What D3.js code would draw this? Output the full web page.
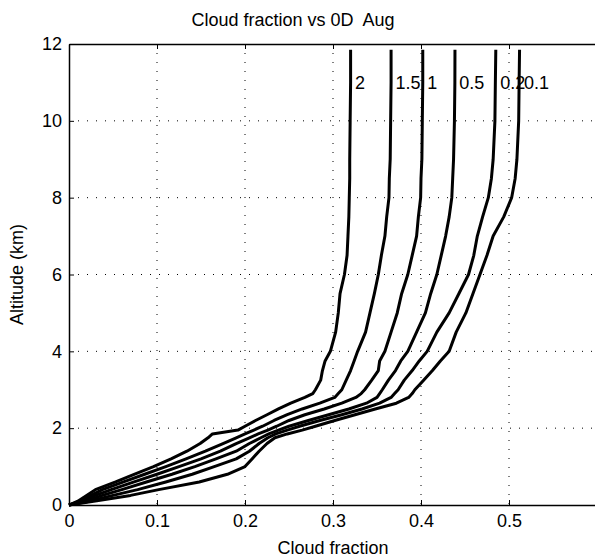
<!DOCTYPE html>
<html>
<head>
<meta charset="utf-8">
<script src="https://cdn.jsdelivr.net/npm/d3@7"></script>
<style>
  body { margin: 0; background: #fff; }
  svg { display: block; font-family: "Liberation Sans", Arial, Helvetica, sans-serif; }
</style>
</head>
<body>
<div id="chart"></div>
<script>
// altitude levels (km) shared by all curves
var altitudes = [0, 0.1, 0.25, 0.4, 0.6, 0.8, 1.0, 1.2, 1.4, 1.6, 1.75, 1.85, 1.95, 2.05, 2.2, 2.35, 2.5, 2.65, 2.8, 2.9, 3.0,
  3.25, 3.5, 3.75, 4.0, 4.5, 5.0, 5.5, 6.0, 6.5, 7.0, 7.5, 8.0, 8.5, 9.0, 10.0, 11.0, 11.85];

// cloud fraction for each optical depth threshold
var od2   = [0, 0.010, 0.020, 0.030, 0.053, 0.074, 0.096, 0.116, 0.134, 0.149, 0.158, 0.163, 0.192, 0.200, 0.212, 0.225, 0.238, 0.252, 0.268, 0.277, 0.280,
  0.286, 0.288, 0.291, 0.297, 0.303, 0.306, 0.308, 0.313, 0.316, 0.317, 0.318, 0.3185, 0.319, 0.319, 0.3195, 0.320, 0.320];
var od1_5 = [0, 0.013, 0.025, 0.038, 0.062, 0.086, 0.110, 0.133, 0.155, 0.175, 0.190, 0.200, 0.210, 0.220, 0.233, 0.248, 0.265, 0.285, 0.302, 0.306, 0.310,
  0.315, 0.320, 0.324, 0.328, 0.337, 0.342, 0.347, 0.3515, 0.355, 0.359, 0.361, 0.3636, 0.364, 0.365, 0.3655, 0.366, 0.366];
var od1   = [0, 0.016, 0.030, 0.048, 0.074, 0.100, 0.125, 0.150, 0.172, 0.190, 0.205, 0.215, 0.226, 0.236, 0.250, 0.268, 0.290, 0.310, 0.326, 0.332, 0.336,
  0.344, 0.3515, 0.353, 0.359, 0.366, 0.373, 0.378, 0.385, 0.390, 0.395, 0.397, 0.3996, 0.400, 0.401, 0.4015, 0.402, 0.402];
var od0_5 = [0, 0.019, 0.038, 0.060, 0.088, 0.117, 0.143, 0.167, 0.190, 0.205, 0.218, 0.227, 0.238, 0.250, 0.272, 0.295, 0.318, 0.338, 0.350, 0.353, 0.356,
  0.363, 0.371, 0.377, 0.385, 0.395, 0.405, 0.411, 0.418, 0.423, 0.428, 0.432, 0.435, 0.436, 0.437, 0.438, 0.4385, 0.4386];
var od0_2 = [0, 0.023, 0.050, 0.078, 0.110, 0.140, 0.165, 0.190, 0.205, 0.216, 0.226, 0.235, 0.248, 0.262, 0.285, 0.310, 0.333, 0.353, 0.366, 0.370, 0.374,
  0.381, 0.390, 0.398, 0.407, 0.418, 0.432, 0.443, 0.454, 0.460, 0.464, 0.470, 0.4765, 0.480, 0.482, 0.484, 0.4845, 0.485];
var od0_1 = [0, 0.028, 0.070, 0.102, 0.148, 0.180, 0.200, 0.208, 0.216, 0.225, 0.234, 0.248, 0.265, 0.280, 0.302, 0.325, 0.348, 0.372, 0.386, 0.390, 0.393,
  0.403, 0.413, 0.422, 0.432, 0.440, 0.451, 0.459, 0.467, 0.475, 0.482, 0.494, 0.503, 0.507, 0.509, 0.511, 0.5115, 0.512];

var seriesNames = ["2", "1.5", "1", "0.5", "0.2", "0.1"];
var seriesValues = [od2, od1_5, od1, od0_5, od0_2, od0_1];

var xTicks = [0, 0.1, 0.2, 0.3, 0.4, 0.5];
var yTicks = [0, 2, 4, 6, 8, 10, 12];
var labelAltitude = 11;

var svgWidth = 595;
var svgHeight = 558;
var margin = { top: 44, right: -2, bottom: 53, left: 69 };
var width = svgWidth - margin.left - margin.right;
var height = svgHeight - margin.top - margin.bottom;

var svg = d3.select("#chart")
  .append("svg")
  .attr("width", svgWidth)
  .attr("height", svgHeight);

var chartGroup = svg.append("g")
  .attr("transform", `translate(${margin.left}, ${margin.top})`);

var xScale = d3.scaleLinear().domain([0, 0.6]).range([0, width]);
var yScale = d3.scaleLinear().domain([0, 12]).range([height, 0]);

// dotted grid
chartGroup.append("g")
  .selectAll("line")
  .data(xTicks.slice(1))
  .enter()
  .append("line")
  .attr("x1", d => xScale(d)).attr("x2", d => xScale(d))
  .attr("y1", 0).attr("y2", height)
  .attr("stroke", "#000")
  .attr("stroke-width", 1)
  .attr("stroke-dasharray", "1,8");

chartGroup.append("g")
  .selectAll("line")
  .data(yTicks.slice(1, -1))
  .enter()
  .append("line")
  .attr("x1", 0).attr("x2", width)
  .attr("y1", d => yScale(d)).attr("y2", d => yScale(d))
  .attr("stroke", "#000")
  .attr("stroke-width", 1)
  .attr("stroke-dasharray", "1,8");

// curves
var line = d3.line()
  .x(d => xScale(d[0]))
  .y(d => yScale(d[1]));

seriesValues.forEach(function(vals, i) {
  var pts = vals.map((v, j) => [v, altitudes[j]]);
  chartGroup.append("path")
    .datum(pts)
    .attr("d", line)
    .attr("fill", "none")
    .attr("stroke", "#000")
    .attr("stroke-width", 3)
    .attr("stroke-linejoin", "round");

  chartGroup.append("text")
    .attr("x", xScale(vals[vals.length - 1] + 0.005))
    .attr("y", yScale(labelAltitude))
    .attr("dy", "0.35em")
    .attr("font-size", "18px")
    .text(seriesNames[i]);
});

// axes with inward ticks
var bottomAxis = d3.axisBottom(xScale).tickValues(xTicks).tickSizeInner(-5).tickSizeOuter(0)
  .tickFormat(d => d === 0 ? "0" : d3.format(".1f")(d));
var topAxis = d3.axisTop(xScale).tickValues(xTicks).tickSizeInner(-5).tickSizeOuter(0).tickFormat("");
var leftAxis = d3.axisLeft(yScale).tickValues(yTicks).tickSizeInner(-5).tickSizeOuter(0);

var xAxis = chartGroup.append("g")
  .attr("transform", `translate(0, ${height})`)
  .call(bottomAxis);
xAxis.selectAll("text").attr("font-size", "18px").attr("dy", "1.05em").attr("fill", "#000");

chartGroup.append("g").call(topAxis);

var yAxis = chartGroup.append("g").call(leftAxis);
yAxis.selectAll("text").attr("font-size", "18px").attr("x", -7).attr("fill", "#000");

chartGroup.selectAll(".domain").attr("stroke", "#000").attr("stroke-width", 1.5);
chartGroup.selectAll(".tick line").attr("stroke", "#000");

// title and axis labels
svg.append("text")
  .attr("x", 293)
  .attr("y", 26)
  .attr("text-anchor", "middle")
  .attr("font-size", "18px")
  .style("white-space", "pre")
  .text("Cloud fraction vs 0D  Aug");

svg.append("text")
  .attr("x", margin.left + xScale(0.3))
  .attr("y", 554)
  .attr("text-anchor", "middle")
  .attr("font-size", "18px")
  .text("Cloud fraction");

svg.append("text")
  .attr("transform", `translate(23, ${margin.top + height / 2}) rotate(-90)`)
  .attr("text-anchor", "middle")
  .attr("font-size", "18px")
  .text("Altitude (km)");
</script>
</body>
</html>
